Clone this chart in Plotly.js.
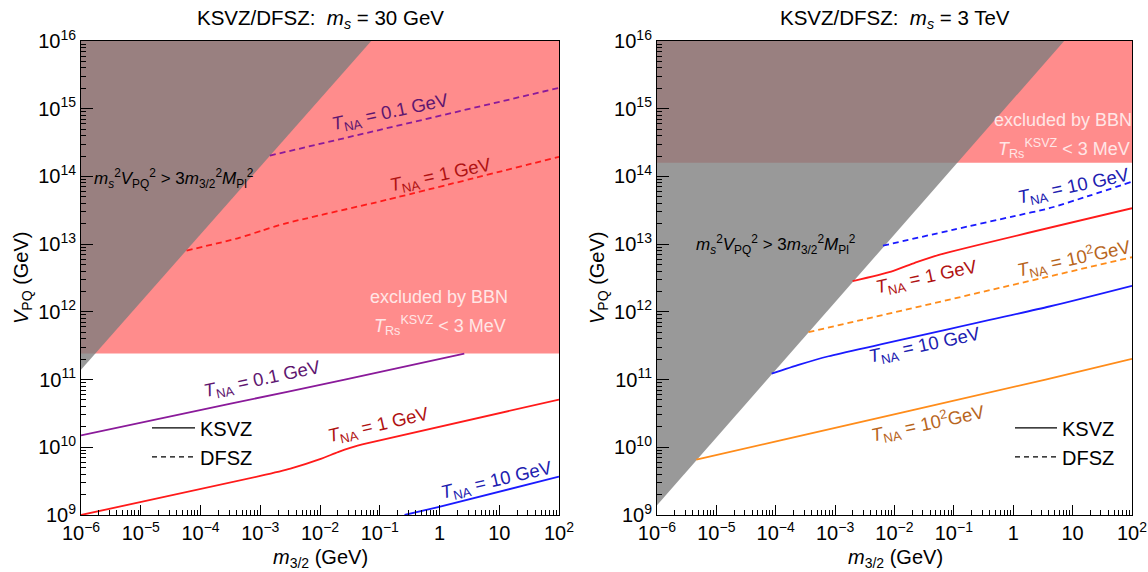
<!DOCTYPE html>
<html>
<head>
<meta charset="utf-8">
<script src="https://cdn.plot.ly/plotly-3.0.1.min.js"></script>
<style>body{margin:0;padding:0;background:#fff;} #chart{width:1148px;height:572px;}</style>
</head>
<body>
<div id="chart"></div>
<script>
// ---------- data ----------
// Left panel: m_s = 30 GeV
var bbnFloorLeft = 2.42e11;
var grayEdgeLeftX = [1e-6, 0.072];
var grayEdgeLeftY = [1.4e11, 1e16];

var ksvzL01X = [1e-6, 3.2e-4, 2.6e-2, 2.6];
var ksvzL01Y = [1.5e10, 4.4e10, 1.0e11, 2.42e11];
var ksvzL1X = [1e-6, 1.0e-3, 3.2e-3, 1.0e-2, 2.0e-2, 3.2e-2, 6.3e-2, 1e2];
var ksvzL1Y = [1e9, 3.77e9, 4.84e9, 6.68e9, 8.5e9, 9.8e9, 1.15e10, 5.07e10];
var ksvzL10X = [0.26, 0.95, 1e2];
var ksvzL10Y = [1e9, 1.31e9, 3.68e9];
var dfszL01X = [1.45e-3, 1e2];
var dfszL01Y = [2.03e14, 2.03e15];
var dfszL1X = [5.85e-5, 4.2e-4, 1.1e-3, 2.68e-3, 0.128, 1e2];
var dfszL1Y = [8.05e12, 1.22e13, 1.6e13, 2.03e13, 4.49e13, 1.95e14];

// Right panel: m_s = 3 TeV
var bbnFloorRight = 1.59e14;
var grayEdgeRightX = [1e-6, 7.2];
var grayEdgeRightY = [1.39e9, 1e16];

var dfszR10X = [6.4e-3, 0.1, 1.0, 4.05, 20, 1e2];
var dfszR10Y = [9.5e12, 1.64e13, 2.57e13, 3.39e13, 5.25e13, 8.35e13];
var ksvzR1X = [1.97e-3, 8.8e-3, 2.2e-2, 5.6e-2, 1e2];
var ksvzR1Y = [2.85e12, 3.94e12, 5.3e12, 6.95e12, 3.39e13];
var dfszR100X = [3.56e-4, 1e2];
var dfszR100Y = [5.0e11, 6.41e12];
var ksvzR10X = [8.55e-5, 2.5e-4, 7.8e-4, 4.05, 1e2];
var ksvzR10Y = [1.22e11, 1.66e11, 2.21e11, 1.2e12, 2.43e12];
var ksvzR100X = [4.6e-6, 1.06e-4, 3.5, 1e2];
var ksvzR100Y = [6.6e9, 1.23e10, 1e11, 2.02e11];

// axis ranges and tick labels
var xMin = 1e-6, xMax = 1e2, yMin = 1e9, yMax = 1e16;
var xTickVals = [1e-6, 1e-5, 1e-4, 1e-3, 1e-2, 1e-1, 1, 10, 100];
var xTickText = ['10<sup>\u22126</sup>', '10<sup>\u22125</sup>', '10<sup>\u22124</sup>', '10<sup>\u22123</sup>',
                 '10<sup>\u22122</sup>', '10<sup>\u22121</sup>', '1', '10', '10<sup>2</sup>'];
var yTickVals = [1e9, 1e10, 1e11, 1e12, 1e13, 1e14, 1e15, 1e16];
var yTickText = ['10<sup>9</sup>', '10<sup>10</sup>', '10<sup>11</sup>', '10<sup>12</sup>',
                 '10<sup>13</sup>', '10<sup>14</sup>', '10<sup>15</sup>', '10<sup>16</sup>'];

// ---------- styles ----------
var PINK = 'rgb(255,140,140)';
var GRAY = 'rgba(124,124,124,0.78)';
var C = {
  purple: '#8a1a9a', red: '#ff1a1a', blue: '#1a1aff', orange: '#ff8c1a'
};
var LBL = {
  purple: '#5e1670', red: '#b01212', blue: '#2020b0', orange: '#b8651c'
};
var DASH = '6px,4px';
var FONT = 'Liberation Sans, Arial, Helvetica, sans-serif';

function minorVals(lo, hi) {
  var v = [];
  for (var e = lo; e < hi; e++) for (var k = 2; k <= 9; k++) v.push(k * Math.pow(10, e));
  return v;
}

function region(xs, ys, color, xa, ya) {
  return {x: xs, y: ys, mode: 'lines', fill: 'toself', fillcolor: color,
          line: {width: 0, color: color}, hoverinfo: 'skip', showlegend: false, xaxis: xa, yaxis: ya};
}
function curve(xs, ys, color, dashed, xa, ya) {
  return {x: xs, y: ys, mode: 'lines', line: {color: color, width: 1.8, dash: dashed ? DASH : 'solid', shape: 'spline', smoothing: 0.6},
          hoverinfo: 'skip', showlegend: false, xaxis: xa, yaxis: ya};
}

var traces = [
  // left regions
  region([xMin, xMax, xMax, xMin], [bbnFloorLeft, bbnFloorLeft, yMax, yMax], PINK, 'x', 'y'),
  region([grayEdgeLeftX[0], grayEdgeLeftX[1], xMin], [grayEdgeLeftY[0], grayEdgeLeftY[1], yMax], GRAY, 'x', 'y'),
  // right regions
  region([xMin, xMax, xMax, xMin], [bbnFloorRight, bbnFloorRight, yMax, yMax], PINK, 'x2', 'y2'),
  region([grayEdgeRightX[0], grayEdgeRightX[1], xMin], [grayEdgeRightY[0], grayEdgeRightY[1], yMax], GRAY, 'x2', 'y2'),
  // left curves
  curve(ksvzL01X, ksvzL01Y, C.purple, false, 'x', 'y'),
  curve(ksvzL1X, ksvzL1Y, C.red, false, 'x', 'y'),
  curve(ksvzL10X, ksvzL10Y, C.blue, false, 'x', 'y'),
  curve(dfszL01X, dfszL01Y, C.purple, true, 'x', 'y'),
  curve(dfszL1X, dfszL1Y, C.red, true, 'x', 'y'),
  // right curves
  curve(dfszR10X, dfszR10Y, C.blue, true, 'x2', 'y2'),
  curve(ksvzR1X, ksvzR1Y, C.red, false, 'x2', 'y2'),
  curve(dfszR100X, dfszR100Y, C.orange, true, 'x2', 'y2'),
  curve(ksvzR10X, ksvzR10Y, C.blue, false, 'x2', 'y2'),
  curve(ksvzR100X, ksvzR100Y, C.orange, false, 'x2', 'y2'),
  // legend entries
  {x: [null], y: [null], mode: 'lines', name: 'KSVZ', line: {color: 'black', width: 1.4}, xaxis: 'x', yaxis: 'y', legend: 'legend'},
  {x: [null], y: [null], mode: 'lines', name: 'DFSZ', line: {color: 'black', width: 1.4, dash: '5px,4px'}, xaxis: 'x', yaxis: 'y', legend: 'legend'},
  {x: [null], y: [null], mode: 'lines', name: 'KSVZ', line: {color: 'black', width: 1.4}, xaxis: 'x2', yaxis: 'y2', legend: 'legend2'},
  {x: [null], y: [null], mode: 'lines', name: 'DFSZ', line: {color: 'black', width: 1.4, dash: '5px,4px'}, xaxis: 'x2', yaxis: 'y2', legend: 'legend2'}
];

function xAxis(domain, anchor) {
  return {type: 'log', range: [-6, 2], domain: domain, anchor: anchor,
    showline: true, mirror: true, linecolor: 'black', linewidth: 1,
    ticks: 'inside', ticklen: 10, tickwidth: 1, tickcolor: 'black',
    tickmode: 'array', tickvals: xTickVals, ticktext: xTickText, ticklabeloverflow: 'allow',
    minor: {ticks: 'inside', ticklen: 5, tickwidth: 1, tickcolor: 'black', tickmode: 'array', tickvals: minorVals(-6, 2), showgrid: false},
    showgrid: false, zeroline: false, tickfont: {family: FONT, size: 20, color: 'black'}};
}
function yAxis(anchor) {
  return {type: 'log', range: [9, 16], domain: [0, 1], anchor: anchor,
    showline: true, mirror: true, linecolor: 'black', linewidth: 1,
    ticks: 'inside', ticklen: 12, tickwidth: 1, tickcolor: 'black',
    tickmode: 'array', tickvals: yTickVals, ticktext: yTickText, ticklabeloverflow: 'allow',
    minor: {ticks: 'inside', ticklen: 5, tickwidth: 1, tickcolor: 'black', tickmode: 'array', tickvals: minorVals(9, 16), showgrid: false},
    showgrid: false, zeroline: false, tickfont: {family: FONT, size: 20, color: 'black'}};
}

// annotation positions in plot pixels -> paper coords
var PL = 81, PW = 1051, PB = 515, PH = 474;
function ann(text, px, py, color, size, angle) {
  return {text: text, x: (px - PL) / PW, y: (PB - py) / PH, xref: 'paper', yref: 'paper', showarrow: false,
          xanchor: 'center', yanchor: 'middle', textangle: angle || 0,
          font: {family: FONT, size: size, color: color}};
}
var TNA = '<i>T</i><sub>NA</sub> = ';
var GRAYTXT = '<i>m</i><sub><i>s</i></sub><sup>2</sup><i>V</i><sub>PQ</sub><sup>2</sup> &gt; 3<i>m</i><sub>3/2</sub><sup>2</sup><i>M</i><sub>Pl</sub><sup>2</sup>';
var BBN2 = '<i>T</i><sub>Rs</sub><sup>KSVZ</sup> &lt; 3 MeV';
var BBNCOL = '#ffe6e6';

var annotations = [
  ann('KSVZ/DFSZ:  <i>m</i><sub><i>s</i></sub> = 30 GeV', 320, 19, 'black', 20.5),
  ann('KSVZ/DFSZ:  <i>m</i><sub><i>s</i></sub> = 3 TeV', 895, 19, 'black', 20.5),
  ann('<i>V</i><sub>PQ</sub> (GeV)', 22, 278, 'black', 20, -90),
  ann('<i>V</i><sub>PQ</sub> (GeV)', 598, 278, 'black', 20, -90),
  ann('<i>m</i><sub>3/2</sub> (GeV)', 320, 558, 'black', 20),
  ann('<i>m</i><sub>3/2</sub> (GeV)', 895, 558, 'black', 20),
  // left labels
  ann(TNA + '0.1 GeV', 390, 113, LBL.purple, 18.5, -12),
  ann(TNA + '1 GeV', 440, 176, LBL.red, 18.5, -12),
  ann(GRAYTXT, 174, 178, 'black', 17),
  ann('excluded by BBN', 439, 297, BBNCOL, 18),
  ann(BBN2, 440, 325, BBNCOL, 18),
  ann(TNA + '0.1 GeV', 262, 380, LBL.purple, 18.5, -12),
  ann(TNA + '1 GeV', 378, 426, LBL.red, 18.5, -13),
  ann(TNA + '10 GeV', 497, 481, LBL.blue, 18.5, -13),
  // right labels
  ann('excluded by BBN', 1063, 120, BBNCOL, 18),
  ann(BBN2, 1064, 148, BBNCOL, 18),
  ann(TNA + '10 GeV', 1074, 187, LBL.blue, 18.5, -12),
  ann(GRAYTXT, 776, 244, 'black', 17),
  ann(TNA + '1 GeV', 926, 278, LBL.red, 18.5, -12),
  ann(TNA + '10<sup>2</sup>GeV', 1074, 258, LBL.orange, 18.5, -12),
  ann(TNA + '10 GeV', 925, 346, LBL.blue, 18.5, -12),
  ann(TNA + '10<sup>2</sup>GeV', 928, 423, LBL.orange, 18.5, -12)
];

var layout = {
  width: 1148, height: 572,
  margin: {l: 81, r: 16, t: 41, b: 57},
  paper_bgcolor: 'white', plot_bgcolor: 'white',
  font: {family: FONT, size: 18, color: 'black'},
  xaxis: xAxis([0, 0.4548], 'y'),
  yaxis: yAxis('x'),
  xaxis2: xAxis([0.5480, 1], 'y2'),
  yaxis2: yAxis('x2'),
  showlegend: true,
  legend: {x: (147 - PL) / PW, y: 0.225, xanchor: 'left', yanchor: 'top', bgcolor: 'rgba(0,0,0,0)',
           font: {family: FONT, size: 20, color: 'black'}, tracegroupgap: 0, itemwidth: 43},
  legend2: {x: (1010 - PL) / PW, y: 0.225, xanchor: 'left', yanchor: 'top', bgcolor: 'rgba(0,0,0,0)',
           font: {family: FONT, size: 20, color: 'black'}, tracegroupgap: 0, itemwidth: 42},
  annotations: annotations
};

Plotly.newPlot('chart', traces, layout, {displayModeBar: false, staticPlot: true});
</script>
</body>
</html>
